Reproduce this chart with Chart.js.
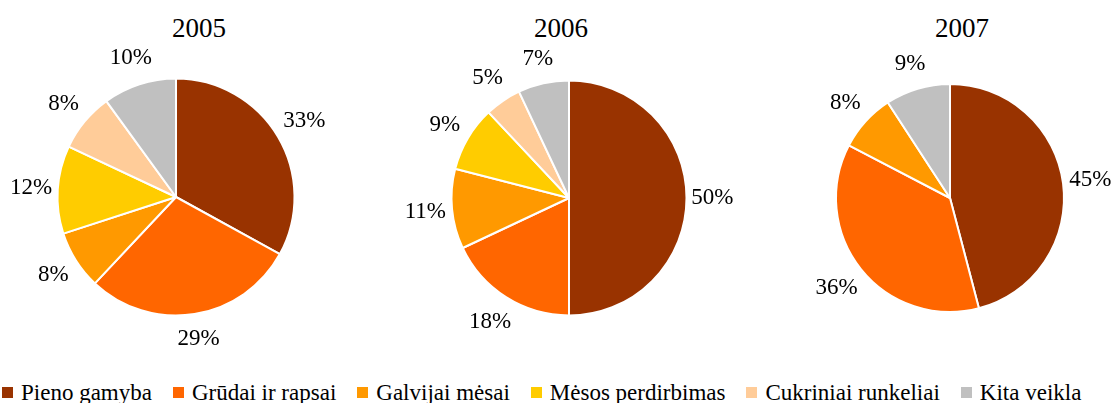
<!DOCTYPE html>
<html>
<head>
<meta charset="utf-8">
<script src="https://cdn.jsdelivr.net/npm/chart.js@4"></script>
<style>
    html, body {
        margin: 0;
        padding: 0;
        background: #fff;
        width: 1114px;
        height: 403px;
        overflow: hidden;
        position: relative;
        font-family: "Liberation Serif", serif;
        color: #000;
    }
    .pie {
        position: absolute;
    }
    .pie-title {
        position: absolute;
        top: 15px;
        width: 120px;
        margin-left: -60px;
        text-align: center;
        font-size: 27px;
        line-height: 27px;
    }
    #legend {
        position: absolute;
        left: 2px;
        top: 381px;
        display: flex;
        white-space: nowrap;
        font-size: 23px;
        line-height: 23px;
    }
    .legend-item {
        display: inline-flex;
        align-items: center;
        margin-right: 21px;
    }
    .legend-box {
        width: 11px;
        height: 11px;
        margin-right: 8px;
    }
</style>
</head>
<body>
<div class="pie-title" style="left:199px">2005</div>
<div class="pie-title" style="left:561px">2006</div>
<div class="pie-title" style="left:962px">2007</div>
<canvas id="pie2005" class="pie" width="360" height="340" style="left:-4px;top:27px"></canvas>
<canvas id="pie2006" class="pie" width="360" height="340" style="left:389px;top:28px"></canvas>
<canvas id="pie2007" class="pie" width="360" height="340" style="left:770px;top:28px"></canvas>
<div id="legend"></div>

<script>
// Data (percent shares)
const categories = ['Pieno gamyba', 'Grūdai ir rapsai', 'Galvijai mėsai', 'Mėsos perdirbimas', 'Cukriniai runkeliai', 'Kita veikla'];
const values2005 = [33, 29, 8, 12, 8, 10];
const values2006 = [50, 18, 11, 9, 5, 7];
const values2007 = [45, 36, 8, 0, 0, 9];

const sliceColors = ['#993300', '#FF6600', '#FF9900', '#FFCC00', '#FFCC99', '#C0C0C0'];

// Percent labels placed just outside each slice
const outsideLabels = {
    id: 'outsideLabels',
    afterDatasetsDraw(chart) {
        const ctx = chart.ctx;
        const meta = chart.getDatasetMeta(0);
        const data = chart.data.datasets[0].data;
        ctx.save();
        ctx.font = '23px "Liberation Serif"';
        ctx.fillStyle = '#000';
        ctx.textAlign = 'center';
        ctx.textBaseline = 'middle';
        meta.data.forEach((arc, i) => {
            if (!data[i]) return;
            const { x, y, startAngle, endAngle, outerRadius } =
                arc.getProps(['x', 'y', 'startAngle', 'endAngle', 'outerRadius'], true);
            const mid = (startAngle + endAngle) / 2;
            const text = data[i] + '%';
            const hw = ctx.measureText(text).width / 2;
            const c = Math.cos(mid), s = Math.sin(mid);
            const d = outerRadius + 9 + 0.8 * hw * Math.abs(c) + 14 * Math.abs(s);
            ctx.fillText(text, x + c * d, y + s * d);
        });
        ctx.restore();
    }
};

function makePie(id, values, radius) {
    const ctx = document.getElementById(id);
    return new Chart(ctx, {
        type: 'pie',
        data: {
            labels: categories,
            datasets: [{
                data: values,
                backgroundColor: sliceColors,
                borderColor: '#ffffff',
                borderWidth: 2
            }]
        },
        options: {
            responsive: false,
            animation: false,
            radius: radius,
            layout: { padding: 0 },
            plugins: {
                legend: { display: false },
                tooltip: { enabled: false }
            }
        },
        plugins: [outsideLabels]
    });
}

function buildLegend() {
    const legend = document.getElementById('legend');
    categories.forEach((name, i) => {
        const item = document.createElement('span');
        item.className = 'legend-item';
        const box = document.createElement('span');
        box.className = 'legend-box';
        box.style.background = sliceColors[i];
        const label = document.createElement('span');
        label.textContent = name;
        item.appendChild(box);
        item.appendChild(label);
        legend.appendChild(item);
    });
}

makePie('pie2005', values2005, 118.5);
makePie('pie2006', values2006, 117.5);
makePie('pie2007', values2007, 114);
buildLegend();
</script>
</body>
</html>
